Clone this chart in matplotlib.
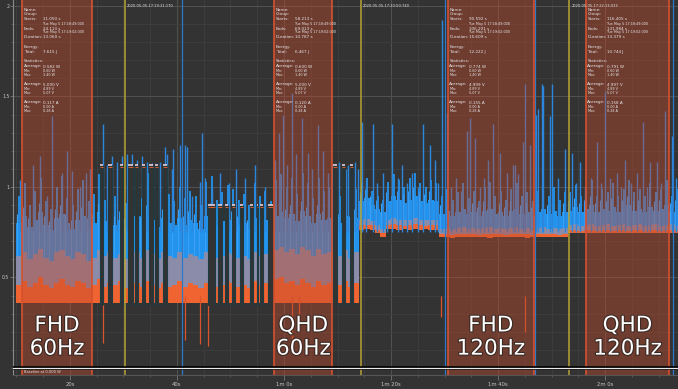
import numpy as np
import matplotlib
matplotlib.use("Agg")
import matplotlib.pyplot as plt
from matplotlib import patheffects as pe
from matplotlib.ticker import MultipleLocator, FixedLocator, FuncFormatter

# ---------------- data (power in W, time in s) ----------------
bucket_t = list(range(10, 134))

floor_w = [
    0.36, 0.36, 0.36, 0.36, 0.36, 0.36, 0.36, 0.36, 0.36, 0.36,
    0.36, 0.36, 0.36, 0.36, 0.36, 0.36, 0.36, 0.36, 0.36, 0.36,
    0.36, 0.36, 0.36, 0.36, 0.36, 0.36, 0.36, 0.36, 0.36, 0.36,
    0.36, 0.36, 0.36, 0.36, 0.36, 0.36, 0.36, 0.36, 0.36, 0.36,
    0.36, 0.36, 0.36, 0.36, 0.36, 0.36, 0.36, 0.36, 0.36, 0.36,
    0.36, 0.36, 0.36, 0.36, 0.36, 0.36, 0.36, 0.36, 0.36, 0.36,
    0.36, 0.36, 0.36, 0.36,
    0.765, 0.768, 0.765, 0.745, 0.726, 0.766, 0.768, 0.765, 0.766, 0.764,
    0.768, 0.765, 0.766, 0.764, 0.765,
    0.722, 0.722, 0.720, 0.722, 0.722, 0.723, 0.721, 0.722, 0.722, 0.720,
    0.722, 0.723, 0.722, 0.721, 0.722, 0.722, 0.720, 0.722, 0.723, 0.722,
    0.721, 0.722, 0.722, 0.722,
    0.745, 0.746, 0.744, 0.745, 0.745, 0.746, 0.744, 0.745, 0.745, 0.746,
    0.744, 0.745, 0.745, 0.746, 0.744, 0.745, 0.745, 0.746, 0.744, 0.745,
    0.745]

orange_top_w = [
    0.46, 0.48, 0.45, 0.47, 0.50, 0.46, 0.44, 0.47, 0.49, 0.46,
    0.45, 0.48, 0.47, 0.44, 0.46, 0.49, 0.45, 0.47, 0.46, 0.48,
    0.44, 0.46, 0.47, 0.45, 0.48, 0.46, 0.44, 0.47, 0.45, 0.46,
    0.48, 0.45, 0.47, 0.46, 0.44, 0.47, 0.49, 0.45, 0.46, 0.48,
    0.47, 0.45, 0.46, 0.44, 0.48, 0.46, 0.47, 0.45, 0.49, 0.50,
    0.47, 0.48, 0.46, 0.49, 0.47, 0.45, 0.48, 0.46, 0.47, 0.49,
    0.46, 0.48, 0.45, 0.47,
    0.79, 0.792, 0.788, 0.765, 0.745, 0.79, 0.795, 0.79, 0.786, 0.79,
    0.795, 0.79, 0.786, 0.79, 0.79,
    0.738, 0.74, 0.736, 0.74, 0.742, 0.738, 0.74, 0.737, 0.74, 0.742,
    0.738, 0.74, 0.737, 0.74, 0.742, 0.738, 0.74, 0.736, 0.74, 0.742,
    0.738, 0.74, 0.737, 0.74,
    0.76, 0.762, 0.758, 0.76, 0.762, 0.758, 0.76, 0.761, 0.759, 0.76,
    0.762, 0.758, 0.76, 0.761, 0.759, 0.76, 0.762, 0.758, 0.76, 0.761,
    0.759]

lav_top_w = [
    0.62, 0.64, 0.60, 0.63, 0.66, 0.61, 0.59, 0.64, 0.65, 0.62,
    0.60, 0.64, 0.63, 0.59, 0.61, 0.65, 0.62, 0.64, 0.61, 0.63,
    0.60, 0.62, 0.64, 0.61, 0.65, 0.63, 0.60, 0.64, 0.62, 0.61,
    0.64, 0.61, 0.63, 0.62, 0.60, 0.64, 0.66, 0.61, 0.62, 0.64,
    0.63, 0.61, 0.62, 0.60, 0.64, 0.62, 0.63, 0.61, 0.65, 0.67,
    0.64, 0.66, 0.63, 0.67, 0.65, 0.62, 0.66, 0.63, 0.64, 0.67,
    0.62, 0.65, 0.61, 0.64,
    0.82, 0.825, 0.81, 0.79, 0.77, 0.82, 0.83, 0.82, 0.815, 0.82,
    0.83, 0.82, 0.815, 0.82, 0.82,
    0.77, 0.775, 0.765, 0.775, 0.78, 0.77, 0.775, 0.767, 0.775, 0.78,
    0.77, 0.775, 0.767, 0.775, 0.78, 0.77, 0.775, 0.765, 0.775, 0.78,
    0.77, 0.775, 0.767, 0.775,
    0.79, 0.795, 0.785, 0.79, 0.795, 0.785, 0.79, 0.795, 0.785, 0.79,
    0.795, 0.785, 0.79, 0.795, 0.785, 0.79, 0.795, 0.785, 0.79, 0.795,
    0.785]

blue_top_w = [
    0.80, 0.84, 0.78, 0.82, 0.86, 0.79, 0.76, 0.83, 0.85, 0.80,
    0.77, 0.82, 0.84, 0.78, 0.80, 0.86, 0.81, 0.83, 0.79, 0.82,
    0.78, 0.80, 0.84, 0.79, 0.85, 0.82, 0.78, 0.83, 0.80, 0.79,
    0.83, 0.79, 0.82, 0.80, 0.77, 0.84, 0.86, 0.79, 0.81, 0.83,
    0.82, 0.79, 0.80, 0.77, 0.83, 0.80, 0.82, 0.78, 0.84, 0.86,
    0.83, 0.85, 0.81, 0.87, 0.84, 0.80, 0.85, 0.82, 0.83, 0.86,
    0.80, 0.84, 0.79, 0.83,
    0.92, 0.94, 0.90, 0.88, 0.86, 0.92, 0.95, 0.93, 0.91, 0.93,
    0.95, 0.92, 0.91, 0.93, 0.92,
    0.85, 0.87, 0.84, 0.86, 0.88, 0.85, 0.86, 0.84, 0.87, 0.88,
    0.85, 0.86, 0.84, 0.87, 0.88, 0.85, 0.86, 0.84, 0.86, 0.88,
    0.85, 0.87, 0.84, 0.86,
    0.87, 0.89, 0.86, 0.88, 0.90, 0.86, 0.88, 0.87, 0.89, 0.86,
    0.88, 0.90, 0.87, 0.88, 0.86, 0.89, 0.87, 0.88, 0.90, 0.86,
    0.88]

# short peaks read between buckets (at bucket + 0.5 s)
minor_peak_w = [
    0.95, 1.02, 0.90, 0.98, 1.05, 0.92, 0.88, 1.00, 1.06, 0.94,
    0.90, 0.99, 1.04, 0.92, 0.96, 1.07, 0.93, 1.01, 0.95, 0.98,
    0.91, 0.97, 1.03, 0.94, 1.08, 0.99, 0.93, 1.02, 0.96, 0.92,
    1.00, 0.94, 0.98, 0.95, 0.90, 1.03, 1.06, 0.93, 0.97, 1.01,
    0.99, 0.93, 0.96, 0.90, 1.02, 0.95, 0.98, 0.92, 1.04, 1.07,
    1.00, 1.05, 0.96, 1.08, 1.02, 0.94, 1.05, 0.98, 1.00, 1.06,
    0.95, 1.03, 0.93, 0.99,
    1.02, 1.05, 0.98, 0.95, 0.93, 1.03, 1.07, 1.04, 1.00, 1.05,
    1.08, 1.02, 1.00, 1.04, 1.02,
    0.95, 0.99, 0.93, 0.97, 1.02, 0.94, 0.98, 0.92, 1.00, 1.03,
    0.95, 0.98, 0.93, 0.99, 1.02, 0.95, 0.97, 0.92, 0.98, 1.03,
    0.95, 1.00, 0.93, 0.97,
    0.97, 1.01, 0.95, 0.99, 1.04, 0.95, 0.99, 0.97, 1.02, 0.95,
    0.99, 1.04, 0.97, 0.99, 0.95, 1.02, 0.97, 0.99, 1.04, 0.95,
    0.99]

spike_t = [10.7, 13.1, 14.4, 15.7, 16.6, 18.5, 19.4, 20.4, 21.9, 23.0, 23.7,
           26.2, 26.9, 27.9, 28.8, 29.7, 30.7, 31.6, 32.5, 33.4, 34.4, 35.3,
           36.8, 37.8, 38.1, 39.1, 39.3, 40.6, 41.5, 41.9, 42.8, 44.3, 44.7,
           45.3, 46.5, 48.0, 49.8, 51.0, 52.8, 54.5, 56.5, 58.3, 59.0, 59.8,
           60.6, 61.5, 62.3, 63.4, 64.5, 65.3, 66.4, 67.3, 68.2, 69.0, 70.3,
           71.6, 72.0, 73.3, 73.9,
           74.5, 75.3, 76.6, 77.4, 78.5, 79.2, 80.2, 81.3, 82.0, 83.0, 84.0,
           85.0, 86.0, 87.3, 88.2, 88.7, 89.5,
           90.5, 91.3, 92.2, 93.0, 94.2, 94.8, 95.7, 96.6, 97.3, 98.1, 99.1,
           100.4, 101.7, 102.8, 103.2, 103.7, 104.7, 105.0, 106.0, 107.1,
           107.5, 108.2, 108.4, 109.7, 110.1, 111.3, 112.5,
           113.8, 114.5, 115.3, 116.2, 117.3, 118.5, 119.2, 120.0, 121.0,
           122.2, 123.0, 123.7, 124.8, 126.0, 127.1, 127.8, 128.4, 129.7,
           130.4, 131.2, 132.5, 133.2]
spike_w = [1.04, 1.12, 1.17, 0.95, 1.39, 1.08, 1.20, 1.09, 1.00, 1.08, 1.10,
           1.35, 1.12, 1.17, 1.14, 1.17, 1.18, 1.18, 1.15, 1.17, 1.14, 1.13,
           1.14, 1.22, 1.18, 1.10, 1.21, 1.23, 1.23, 1.22, 0.95, 1.03, 1.30,
           1.05, 1.00, 1.08, 1.02, 1.10, 1.05, 1.12, 1.00, 1.15, 1.30, 1.40,
           1.12, 1.52, 1.18, 1.38, 1.19, 1.10, 1.34, 1.20, 1.08, 1.12, 1.14,
           1.10, 1.12, 1.14, 1.10,
           1.36, 1.05, 1.35, 1.02, 1.08, 1.00, 1.35, 1.05, 1.12, 1.02, 1.08,
           1.00, 1.35, 1.23, 1.15, 1.02, 1.92,
           1.41, 1.00, 1.05, 0.98, 1.31, 1.38, 1.27, 1.00, 1.05, 1.15, 1.35,
           1.19, 1.08, 1.12, 1.12, 1.07, 1.25, 1.57, 1.23, 1.40,
           1.43, 1.57, 1.56, 1.39, 1.57, 1.05, 1.21,
           1.19, 1.02, 1.14, 1.00, 1.05, 1.25, 1.02, 1.53, 1.05,
           1.08, 1.00, 1.15, 1.02, 1.08, 1.36, 1.00, 1.14, 1.14,
           1.02, 1.42, 1.28, 1.05]

dip_t = [26.2, 41.5, 44.3, 45.8, 61.5, 62.8, 89.3, 105.0]
dip_w = [0.14, 0.155, 0.13, 0.12, 0.12, 0.20, 0.28, 0.20]

gap_start = [25.6, 27.1, 29.3, 30.8, 32.1, 33.5, 34.8, 35.9, 37.4,
             45.8, 47.7, 49.0, 50.3, 51.8, 53.6, 54.9, 55.5, 57.0,
             69.2, 70.8, 72.3]
gap_end = [26.1, 27.9, 29.9, 31.8, 32.7, 34.0, 35.5, 36.4, 38.1,
           47.1, 48.4, 49.5, 50.8, 52.3, 54.2, 55.1, 56.1, 57.9,
           69.9, 71.4, 72.9]
gap_level = [1.12, 1.12, 1.12, 1.12, 1.12, 1.12, 1.12, 1.12, 1.12,
             0.90, 0.90, 0.90, 0.90, 0.90, 0.90, 0.90, 0.90, 0.90,
             1.12, 1.12, 1.12]

marker_yellow_t = [30.3, 74.4, 113.3]
marker_yellow_txt = ["2020-05-05-17:19:21:170", "2020-05-05-17:20:50:740",
                     "2020-05-05-17:22:13:033"]
marker_blue_t = [40.9, 90.1, 106.9, 132.7]

region_start = [11.050, 58.213, 90.592, 116.405]
region_end = [24.113, 69.013, 106.700, 132.000]
region_label = ["FHD\n60Hz", "QHD\n60Hz", "FHD\n120Hz", "QHD\n120Hz"]
region_starts_txt = ["11.050 s", "58.213 s", "90.592 s", "116.405 s"]
region_ends_txt = ["24.113 s", "69.013 s", "106.201 s", "131.984 s"]
region_dur_txt = ["13.060 s", "10.787 s", "15.609 s", "13.379 s"]
region_energy_txt = ["7.615 J", "6.467 J", "12.222 J", "10.744 J"]
region_avg_w = ["0.582 W", "0.600 W", "0.774 W", "0.791 W"]
region_avg_v = ["5.000 V", "5.000 V", "4.999 V", "4.997 V"]
region_avg_a = ["0.117 A", "0.120 A", "0.155 A", "0.158 A"]

x_major = [20, 40, 60, 80, 100, 120]
y_major = [0.5, 1.0, 1.5, 2.0]
y_major_lbl = ["0.5", "1", "1.5", "2"]

# ---------------- style ----------------
BG = "#333333"
ORANGE = "#ef6430"
LAV = "#8b8ca9"
BLUE = "#2294ee"
SPIKE = "#2b86dc"
REGION = "#c4492c"
REGION_EDGE = "#d5512e"

plt.rcParams["font.family"] = ["DejaVu Sans"]

fig = plt.figure(figsize=(6.78, 3.89), dpi=100, facecolor=BG)
ax = fig.add_axes([13 / 678, 14 / 389, 665 / 678, 375 / 389])
ax.set_facecolor(BG)
ax.set_xlim(9.35, 133.64)
ax.set_ylim(-0.0387, 2.033)

# grid
ax.xaxis.set_major_locator(FixedLocator(x_major))
ax.xaxis.set_minor_locator(MultipleLocator(5))
ax.yaxis.set_major_locator(FixedLocator(y_major))
ax.yaxis.set_minor_locator(MultipleLocator(0.1))
ax.grid(which="major", color="#505050", lw=0.8)
ax.grid(which="minor", color="#3e3e3e", lw=0.6)
ax.set_axisbelow(True)


def fmt_time(s, pos=None):
    m = int(s // 60)
    sec = int(round(s - 60 * m))
    return f"{sec}s" if m == 0 else f"{m}m {sec}s"


ax.xaxis.set_major_formatter(FuncFormatter(fmt_time))
ax.set_yticklabels(y_major_lbl)
ax.tick_params(axis="x", which="major", colors="#777777", labelcolor="#c8c8c8",
               labelsize=3.8, length=3.5, width=0.6, pad=1.5, direction="out")
ax.tick_params(axis="y", which="major", colors="#777777", labelcolor="#c8c8c8",
               labelsize=3.3, length=2.0, width=0.6, pad=0.6, direction="out")
ax.tick_params(axis="both", which="minor", colors="#666666", length=1.6, width=0.5,
               direction="out")
for s in ["top", "right"]:
    ax.spines[s].set_visible(False)
ax.spines["left"].set_color("#8a8a8a")
ax.spines["left"].set_linewidth(0.8)
ax.spines["bottom"].set_color("#555555")

# band (min / typical / max)
tb = np.append(np.array(bucket_t, float), bucket_t[-1] + 1)


def ext(a):
    return np.append(np.array(a, float), a[-1])


ax.fill_between(tb, ext(floor_w), ext(orange_top_w), step="post", color=ORANGE,
                lw=0, zorder=2)
ax.fill_between(tb, ext(orange_top_w), ext(lav_top_w), step="post", color=LAV,
                lw=0, zorder=2)
ax.fill_between(tb, ext(lav_top_w), ext(blue_top_w), step="post", color=BLUE,
                lw=0, zorder=2)

# short peaks, spikes (max) and dips (min)
half_t = np.array(bucket_t, float) + 0.5
ax.vlines(half_t, np.array(lav_top_w), minor_peak_w, color=BLUE, lw=1.3, zorder=2.3)
ax.vlines(np.array(bucket_t, float) + 0.15, np.array(lav_top_w), np.array(blue_top_w) + 0.05,
          color="#3aa0f5", lw=0.8, zorder=2.3)
ax.vlines(spike_t, [0.75] * len(spike_t), spike_w, color=SPIKE, lw=1.0, zorder=2.4)
ax.vlines(dip_t, dip_w, [0.4] * len(dip_t), color="#d9552f", lw=0.9, zorder=2.4)

# idle gaps
for t0, t1, lv in zip(gap_start, gap_end, gap_level):
    ax.fill_between([t0, t1], [0.345, 0.345], [lv, lv], color=BG, lw=0, zorder=2.6)
    ax.vlines([t0, t1], 0.35, lv, color="#1f3b44", lw=0.8, zorder=2.7)
    ax.hlines(lv, t0, t1, color="#d9c4cc", lw=1.3, zorder=2.8)
    ax.hlines(lv - 0.008, t0, t1, color=ORANGE, lw=0.6, zorder=2.8)

# markers
for t, txt in zip(marker_yellow_t, marker_yellow_txt):
    ax.axvline(t, color="#b6a233", lw=1.1, zorder=4)
    ax.annotate(txt, (t, 1.0), xycoords=("data", "axes fraction"),
                xytext=(1.5, -3), textcoords="offset points", fontsize=2.6,
                color="#e0e0e0", va="top", ha="left", zorder=8)
for t in marker_blue_t:
    ax.axvline(t, color="#2e78c8", lw=0.9, zorder=4)

# baseline
ax.axhline(0.0, color="black", lw=2.6, zorder=6)
ax.axhline(0.0, color="#e8e8e8", lw=0.9, zorder=6.1)
ax.annotate("Baseline at 0.000 W", (9.35, 0.0), xycoords="data", xytext=(8, -3.2),
            textcoords="offset points", fontsize=2.6, color="#e0e0e0", va="center",
            zorder=8)

# regions
row_px = [10, 14.5, 19.5, 23.5, 28.5, 32.5, 37.5, 47, 52, 61.5, 66.5, 70.5, 75,
          84.5, 89, 93, 102.5, 107, 111.5]
for i, (s, e) in enumerate(zip(region_start, region_end)):
    ax.axvspan(s, e, color=REGION, alpha=0.42, lw=0, zorder=5)
    ax.axvline(s, color=REGION_EDGE, lw=1.2, zorder=5.5)
    ax.axvline(e, color=REGION_EDGE, lw=1.2, zorder=5.5)
    ax.text((s + e) / 2, 0.171, region_label[i], ha="center", va="center",
            fontsize=15.5, color="white", linespacing=1.2, zorder=9,
            path_effects=[pe.withStroke(linewidth=1.6, foreground="#3b2a24")])
    labels = ["Name:", "Group:", "Starts:", "", "Ends:", "", "Duration:",
              "Energy:", "Total:", "Statistics:", "Average:", "Min:", "Max:",
              "Average:", "Min:", "Max:", "Average:", "Min:", "Max:"]
    values = ["", "", region_starts_txt[i], "Tue May 5 17:18:49:000",
              region_ends_txt[i], "Tue May 5 17:19:02:000", region_dur_txt[i],
              "", region_energy_txt[i], "", region_avg_w[i], "0.60 W", "1.40 W",
              region_avg_v[i], "4.89 V", "5.07 V", region_avg_a[i], "0.00 A",
              "0.28 A"]
    small = {3, 5, 11, 12, 14, 15, 17, 18}
    for r, lab, val in zip(range(len(labels)), labels, values):
        yf = 1 - row_px[r] / 375
        fs = 2.4 if r in small else 3.0
        if lab:
            ax.annotate(lab, (s, yf), xycoords=("data", "axes fraction"),
                        xytext=(1.2, 0), textcoords="offset points", fontsize=fs,
                        color="#e6e6e6", va="center", ha="left", zorder=8)
        if val:
            ax.annotate(val, (s, yf), xycoords=("data", "axes fraction"),
                        xytext=(15, 0), textcoords="offset points", fontsize=fs,
                        color="#e6e6e6", va="center", ha="left", zorder=8)

fig.savefig("out.png", dpi=100, facecolor=BG)
